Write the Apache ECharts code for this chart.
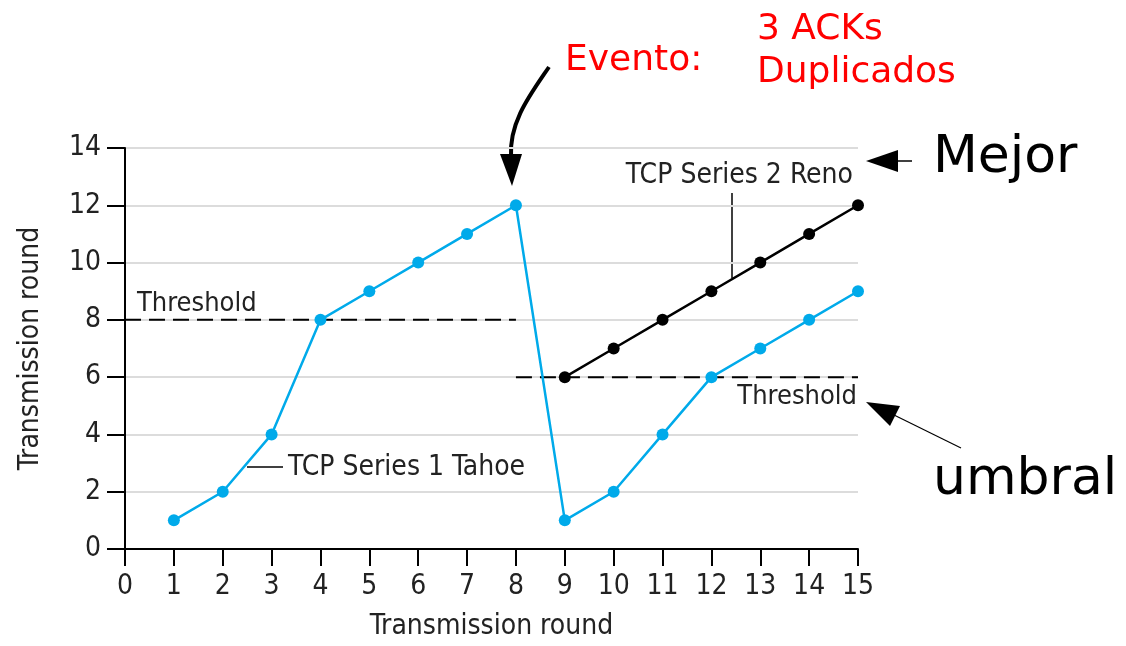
<!DOCTYPE html>
<html>
<head>
<meta charset="utf-8">
<script src="https://cdn.jsdelivr.net/npm/echarts@6/dist/echarts.min.js"></script>
<style>
  html, body { margin: 0; padding: 0; background: #fff; }
  #dashboard { width: 1126px; height: 646px; }
</style>
</head>
<body>
<div id="dashboard"></div>
<script>
// datos
var rounds = [1, 2, 3, 4, 5, 6, 7, 8, 9, 10, 11, 12, 13, 14, 15];
var tahoe = [1, 2, 4, 8, 9, 10, 11, 12, 1, 2, 4, 6, 7, 8, 9];
var renoRounds = [9, 10, 11, 12, 13, 14, 15];
var reno = [6, 7, 8, 9, 10, 11, 12];
var threshold1 = [[0, 8], [8, 8]];
var threshold2 = [[8, 6], [15, 6]];
var xTicks = [0, 15, 1];
var yTicks = [0, 14, 2];

var NARROW = '"Liberation Sans Narrow", "DejaVu Sans Condensed", sans-serif';
var BLUE = '#00aaea';

var myChart = echarts.init(document.getElementById('dashboard'));

function pairs(xs, ys) {
  return xs.map(function (x, i) { return [x, ys[i]]; });
}

var option = {
  animation: false,
  grid: { left: 125, right: 268, top: 148, bottom: 95 },
  xAxis: {
    type: 'value',
    min: xTicks[0], max: xTicks[1], interval: xTicks[2],
    name: 'Transmission round',
    nameLocation: 'middle',
    nameGap: 64,
    nameTextStyle: { fontFamily: NARROW, fontSize: 28, color: '#222' },
    axisLine: { lineStyle: { color: '#000', width: 2 } },
    axisTick: { length: 17, lineStyle: { color: '#000', width: 2 } },
    axisLabel: { fontFamily: NARROW, fontSize: 28, color: '#222', margin: 24 },
    splitLine: { show: false }
  },
  yAxis: {
    type: 'value',
    min: yTicks[0], max: yTicks[1], interval: yTicks[2],
    name: 'Transmission round',
    nameLocation: 'middle',
    nameGap: 80,
    nameTextStyle: { fontFamily: NARROW, fontSize: 28, color: '#222' },
    axisLine: { show: true, lineStyle: { color: '#000', width: 2 } },
    axisTick: { show: true, length: 18, lineStyle: { color: '#000', width: 2 } },
    axisLabel: { fontFamily: NARROW, fontSize: 28, color: '#222', margin: 24 },
    splitLine: { show: true, lineStyle: { color: '#dcdcdc', width: 2 } }
  },
  series: [
    {
      name: 'Threshold 1', type: 'line', data: threshold1, symbol: 'none',
      lineStyle: { color: '#000', width: 2, type: [16, 8] }, z: 1
    },
    {
      name: 'Threshold 2', type: 'line', data: threshold2, symbol: 'none',
      lineStyle: { color: '#000', width: 2, type: [16, 8] }, z: 1
    },
    {
      name: 'TCP Series 1 Tahoe', type: 'line', data: pairs(rounds, tahoe),
      symbol: 'circle', symbolSize: 12,
      itemStyle: { color: BLUE }, lineStyle: { color: BLUE, width: 2.5 }, z: 3
    },
    {
      name: 'TCP Series 2 Reno', type: 'line', data: pairs(renoRounds, reno),
      symbol: 'circle', symbolSize: 12,
      itemStyle: { color: '#000' }, lineStyle: { color: '#000', width: 2.5 }, z: 3
    }
  ],
  graphic: {
    elements: [
      // etiquetas de la figura original
      { type: 'text', x: 137, y: 290,
        style: { text: 'Threshold', font: '27px ' + NARROW, fill: '#222' } },
      { type: 'text', x: 857, y: 383,
        style: { text: 'Threshold', font: '27px ' + NARROW, fill: '#222', align: 'right' } },
      { type: 'text', x: 288, y: 454,
        style: { text: 'TCP Series 1 Tahoe', font: '28px ' + NARROW, fill: '#222' } },
      { type: 'line', shape: { x1: 247, y1: 467, x2: 283, y2: 467 },
        style: { stroke: '#000', lineWidth: 1.5 } },
      { type: 'text', x: 853, y: 162,
        style: { text: 'TCP Series 2 Reno', font: '28px ' + NARROW, fill: '#222', align: 'right' } },
      { type: 'line', shape: { x1: 732, y1: 193, x2: 732, y2: 278 },
        style: { stroke: '#000', lineWidth: 1.5 } },

      // anotaciones en rojo
      { type: 'text', x: 565, y: 43,
        style: { text: 'Evento:', font: '36px "DejaVu Sans", sans-serif', fill: '#ff0000' } },
      { type: 'text', x: 757, y: 8,
        style: { text: '3 ACKs\nDuplicados', font: '36px "DejaVu Sans", sans-serif',
                 fill: '#ff0000', lineHeight: 43 } },
      // flecha curva hacia el pico
      { type: 'bezierCurve',
        shape: { x1: 549, y1: 67, cpx1: 530, cpy1: 95, cpx2: 509, cpy2: 122, x2: 511, y2: 157 },
        style: { stroke: '#000', lineWidth: 4, fill: null } },
      { type: 'polygon', shape: { points: [[500, 154], [522, 154], [512, 186]] },
        style: { fill: '#000' } },

      // Mejor
      { type: 'text', x: 933, y: 132,
        style: { text: 'Mejor', font: '52px "DejaVu Sans", sans-serif', fill: '#000' } },
      { type: 'polygon', shape: { points: [[866, 161], [898, 150], [898, 172]] },
        style: { fill: '#000' } },
      { type: 'line', shape: { x1: 896, y1: 161, x2: 912, y2: 161 },
        style: { stroke: '#000', lineWidth: 1.5 } },

      // umbral
      { type: 'text', x: 933, y: 454,
        style: { text: 'umbral', font: '52px "DejaVu Sans", sans-serif', fill: '#000' } },
      { type: 'polygon', shape: { points: [[866, 402], [900, 406], [890, 426]] },
        style: { fill: '#000' } },
      { type: 'line', shape: { x1: 892, y1: 414, x2: 961, y2: 448 },
        style: { stroke: '#000', lineWidth: 1.2 } }
    ]
  }
};

myChart.setOption(option);
</script>
</body>
</html>
